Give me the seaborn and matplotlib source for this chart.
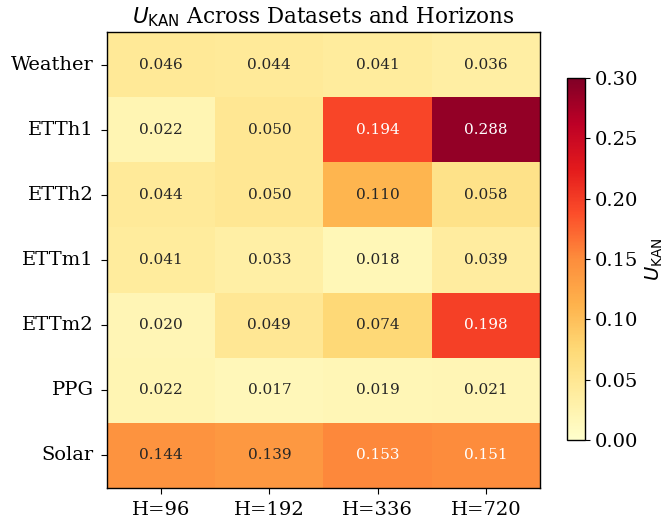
import matplotlib
matplotlib.use("Agg")
import matplotlib.pyplot as plt
import seaborn as sns
import numpy as np
import pandas as pd

datasets = ["Weather", "ETTh1", "ETTh2", "ETTm1", "ETTm2", "PPG", "Solar"]
horizons = ["H=96", "H=192", "H=336", "H=720"]
h96 = [0.046, 0.022, 0.044, 0.041, 0.020, 0.022, 0.144]
h192 = [0.044, 0.050, 0.050, 0.033, 0.049, 0.017, 0.139]
h336 = [0.041, 0.194, 0.110, 0.018, 0.074, 0.019, 0.153]
h720 = [0.036, 0.288, 0.058, 0.039, 0.198, 0.021, 0.151]

df = pd.DataFrame({"H=96": h96, "H=192": h192, "H=336": h336, "H=720": h720}, index=datasets)[horizons]

plt.rcParams["font.family"] = ["DejaVu Serif"]
plt.rcParams["mathtext.fontset"] = "dejavusans"

fig = plt.figure(figsize=(6.66, 5.22), dpi=100)
ax = fig.add_axes([0.1607, 0.0651, 0.650, 0.8736])
cax = fig.add_axes([0.8514, 0.157, 0.027, 0.6935])

sns.heatmap(df, ax=ax, cbar_ax=cax, cmap="YlOrRd", vmin=0, vmax=0.3,
            annot=True, fmt=".3f", annot_kws={"size": 11},
            cbar_kws={"label": r"$U_{\mathrm{KAN}}$"})

for s in ax.spines.values():
    s.set_visible(True)
    s.set_color("black")
    s.set_linewidth(1.0)
cb = ax.collections[0].colorbar
cb.outline.set_visible(True)
cb.outline.set_edgecolor("black")
cb.outline.set_linewidth(1.0)
cb.ax.tick_params(labelsize=14)
cb.set_label(r"$U_{\mathrm{KAN}}$", fontsize=14)

ax.set_title(r"$U_{\mathrm{KAN}}$ Across Datasets and Horizons", fontsize=15.5)
ax.tick_params(axis="both", labelsize=14, length=4.5, pad=5)
ax.set_yticklabels(datasets, rotation=0)
ax.set_xticklabels(horizons, rotation=0)
ax.set_xlabel("")
ax.set_ylabel("")

fig.savefig("out.png", dpi=100)
